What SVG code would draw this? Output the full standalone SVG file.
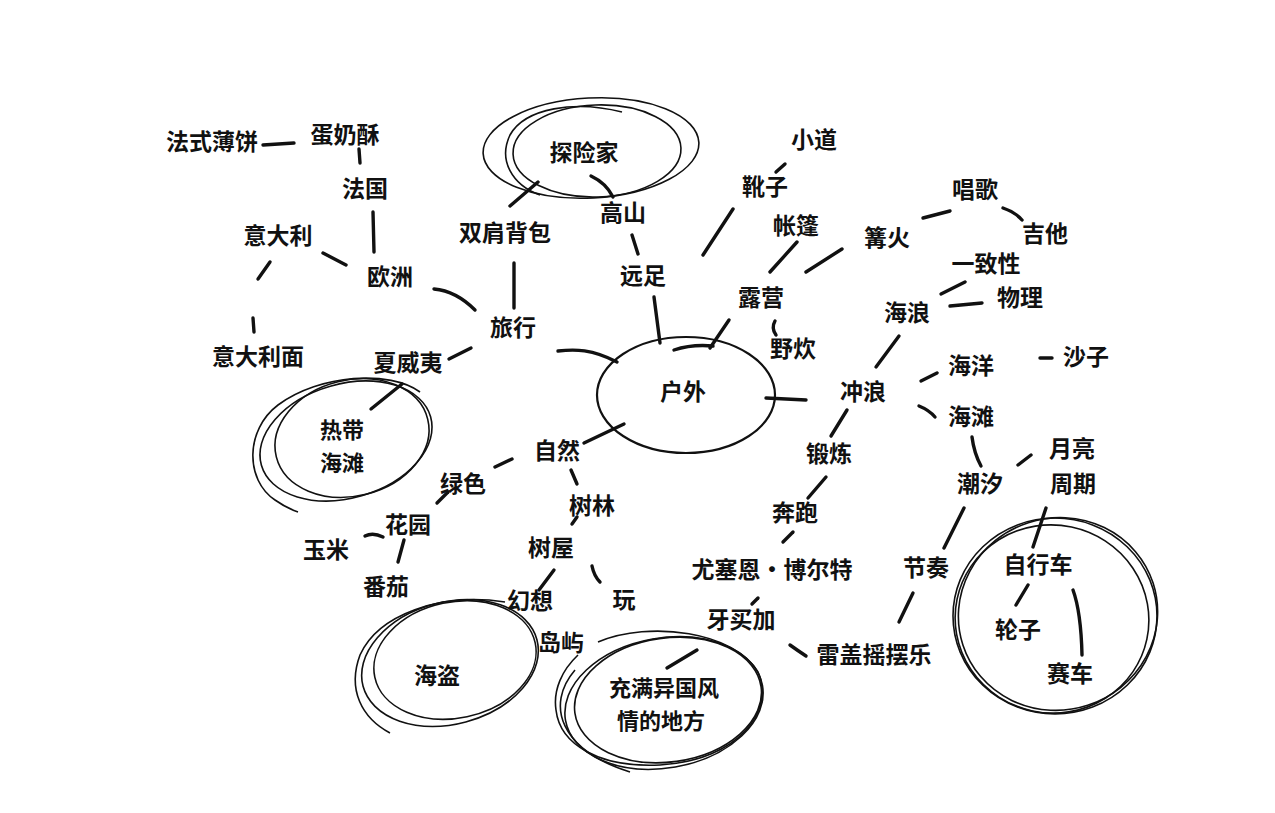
<svg xmlns="http://www.w3.org/2000/svg" width="1275" height="813" viewBox="0 0 1275 813">
<style>
text{font-family:"Noto Sans CJK SC","Noto Sans",sans-serif;font-weight:700;font-size:23px;fill:#111;text-anchor:middle;dominant-baseline:central}
text.m{font-size:22px}
.c{fill:none;stroke:#111;stroke-width:3.4;stroke-linecap:round;stroke-linejoin:round}
.o{fill:none;stroke:#111;stroke-width:1.6}
.o2{fill:none;stroke:#111;stroke-width:2.2}
</style>
<rect width="1275" height="813" fill="#fff"/>
<g id="connectors">
<path class="c" d="M263,145 L294,143"/>
<path class="c" d="M359,149 L360,163"/>
<path class="c" d="M373,212 L374,252"/>
<path class="c" d="M323,253 L346,265"/>
<path class="c" d="M270,262 L258,279"/>
<path class="c" d="M253,318 L254,332"/>
<path class="c" d="M434,289 Q456,291 475,310"/>
<path class="c" d="M514,263 L514,308"/>
<path class="c" d="M510,206 L538,182"/>
<path class="c" d="M449,359 L471,348"/>
<path class="c" d="M371,409 L402,384"/>
<path class="c" d="M558,351 C575,349 592,349 617,362"/>
<path class="c" d="M591,176 Q606,183 613,197"/>
<path class="c" d="M632,235 L638,254"/>
<path class="c" d="M654,297 L660,343"/>
<path class="c" d="M674,350 Q692,344 713,346"/>
<path class="c" d="M729,320 L710,348"/>
<path class="c" d="M775,321 Q771,328 776,335"/>
<path class="c" d="M703,255 L733,209"/>
<path class="c" d="M776,172 L785,164"/>
<path class="c" d="M770,272 L797,242"/>
<path class="c" d="M806,272 L842,249"/>
<path class="c" d="M923,218 L950,211"/>
<path class="c" d="M1003,208 Q1015,212 1022,220"/>
<path class="c" d="M941,294 L965,282"/>
<path class="c" d="M950,306 L982,303"/>
<path class="c" d="M899,336 L876,367"/>
<path class="c" d="M766,398 L806,400"/>
<path class="c" d="M921,381 L937,373"/>
<path class="c" d="M1040,358 L1052,358"/>
<path class="c" d="M919,406 Q929,410 935,417"/>
<path class="c" d="M972,437 Q974,453 981,466"/>
<path class="c" d="M1018,465 L1031,455"/>
<path class="c" d="M1046,508 L1033,547"/>
<path class="c" d="M964,508 L944,548"/>
<path class="c" d="M913,593 L899,622"/>
<path class="c" d="M847,410 L831,436"/>
<path class="c" d="M826,477 L808,498"/>
<path class="c" d="M793,532 L783,542"/>
<path class="c" d="M758,598 L752,604"/>
<path class="c" d="M790,645 Q797,650 806,656"/>
<path class="c" d="M667,668 L697,650"/>
<path class="c" d="M584,443 L624,424"/>
<path class="c" d="M495,467 L512,459"/>
<path class="c" d="M437,503 L448,492"/>
<path class="c" d="M365,536 Q373,532 383,537"/>
<path class="c" d="M404,540 L398,562"/>
<path class="c" d="M571,470 L577,484"/>
<path class="c" d="M572,524 L577,517"/>
<path class="c" d="M554,570 L539,590"/>
<path class="c" d="M592,566 Q594,576 600,582"/>
<path class="c" d="M1028,585 L1016,605"/>
<path class="c" d="M1073,590 Q1081,612 1082,655"/>
</g>
<g id="n-huwai"><ellipse class="o2" cx="686" cy="395" rx="89" ry="58"/><text x="683" y="390">户外</text></g>
<g id="n-tanxianjia">
<ellipse class="o" cx="591" cy="148" rx="108" ry="50" transform="rotate(-3 591 148)"/>
<ellipse class="o" cx="597" cy="151" rx="84" ry="46" transform="rotate(-2 597 151)"/>
<path class="o" d="M622,112 C575,100 525,108 510,135 C498,160 512,185 540,195"/>
<text x="584" y="151">探险家</text></g>
<g id="n-redai">
<ellipse class="o" cx="352" cy="438" rx="78" ry="58" transform="rotate(-14 352 438)"/>
<ellipse class="o" cx="346" cy="441" rx="88" ry="57" transform="rotate(-16 346 441)"/>
<path class="o" d="M420,392 C390,370 320,374 278,405 C245,430 245,480 275,500 C285,507 292,510 298,512"/>
<text class="m" x="342" y="428">热带</text><text class="m" x="342" y="461">海滩</text></g>
<g id="n-haidao">
<ellipse class="o" cx="455" cy="660" rx="82" ry="58" transform="rotate(-12 455 660)"/>
<ellipse class="o" cx="450" cy="663" rx="90" ry="61" transform="rotate(-15 450 663)"/>
<path class="o" d="M505,602 C440,592 378,615 360,655 C347,690 362,718 390,733"/>
<text x="437" y="674">海盗</text></g>
<g id="n-yiguo">
<ellipse class="o" cx="668" cy="700" rx="94" ry="62" transform="rotate(-8 668 700)"/>
<ellipse class="o" cx="664" cy="703" rx="100" ry="65" transform="rotate(-10 664 703)"/>
<path class="o" d="M598,642 C650,620 735,632 758,672 C775,710 740,760 660,765 C600,768 560,745 556,710 C553,690 562,670 578,655"/>
<path class="o" d="M575,670 C545,705 560,750 630,772"/>
<text class="m" x="664" y="686">充满异国风</text><text class="m" x="661" y="719">情的地方</text></g>
<g id="n-zixingche">
<ellipse class="o" cx="1055" cy="616" rx="102" ry="98"/>
<ellipse class="o" cx="1052" cy="619" rx="97" ry="94" transform="rotate(12 1052 619)"/>
<ellipse class="o" cx="1058" cy="614" rx="100" ry="96" transform="rotate(-18 1058 614)"/>
<text x="1038" y="563">自行车</text></g>
<g id="n-fsbb"><text x="212" y="140">法式薄饼</text></g>
<g id="n-dnsu"><text x="345" y="133">蛋奶酥</text></g>
<g id="n-faguo"><text x="365" y="187">法国</text></g>
<g id="n-ydl"><text x="278" y="234">意大利</text></g>
<g id="n-ouzhou"><text x="390" y="275">欧洲</text></g>
<g id="n-ydlm"><text x="258" y="355">意大利面</text></g>
<g id="n-xwy"><text x="408" y="361">夏威夷</text></g>
<g id="n-sjbb"><text x="505" y="231">双肩背包</text></g>
<g id="n-lvxing"><text x="513" y="326">旅行</text></g>
<g id="n-gaoshan"><text x="623" y="211">高山</text></g>
<g id="n-yuanzu"><text x="643" y="274">远足</text></g>
<g id="n-xiaodao"><text x="814" y="138">小道</text></g>
<g id="n-xuezi"><text x="765" y="185">靴子</text></g>
<g id="n-zhangpeng"><text x="796" y="224">帐篷</text></g>
<g id="n-gouhuo"><text x="887" y="236">篝火</text></g>
<g id="n-changge"><text x="975" y="188">唱歌</text></g>
<g id="n-jita"><text x="1045" y="232">吉他</text></g>
<g id="n-yzx"><text x="986" y="262">一致性</text></g>
<g id="n-wuli"><text x="1020" y="296">物理</text></g>
<g id="n-hailang"><text x="907" y="311">海浪</text></g>
<g id="n-luying"><text x="761" y="296">露营</text></g>
<g id="n-yechui"><text x="793" y="347">野炊</text></g>
<g id="n-chonglang"><text x="863" y="390">冲浪</text></g>
<g id="n-haiyang"><text x="971" y="364">海洋</text></g>
<g id="n-shazi"><text x="1086" y="355">沙子</text></g>
<g id="n-haitan"><text x="971" y="415">海滩</text></g>
<g id="n-duanlian"><text x="829" y="452">锻炼</text></g>
<g id="n-yueliang"><text x="1072" y="447">月亮</text></g>
<g id="n-chaoxi"><text x="980" y="482">潮汐</text></g>
<g id="n-zhouqi"><text x="1073" y="482">周期</text></g>
<g id="n-ziran"><text x="557" y="449">自然</text></g>
<g id="n-lvse"><text x="463" y="482">绿色</text></g>
<g id="n-shulin"><text x="592" y="504">树林</text></g>
<g id="n-huayuan"><text x="408" y="523">花园</text></g>
<g id="n-yumi"><text x="326" y="548">玉米</text></g>
<g id="n-shuwu"><text x="551" y="546">树屋</text></g>
<g id="n-benpao"><text x="795" y="511">奔跑</text></g>
<g id="n-bolt"><text x="772" y="568">尤塞恩·博尔特</text></g>
<g id="n-jiezou"><text x="926" y="566">节奏</text></g>
<g id="n-fanqie"><text x="386" y="585">番茄</text></g>
<g id="n-huanxiang"><text x="530" y="599">幻想</text></g>
<g id="n-wan"><text x="624" y="598">玩</text></g>
<g id="n-yamaijia"><text x="741" y="618">牙买加</text></g>
<g id="n-lunzi"><text x="1018" y="628">轮子</text></g>
<g id="n-daoyu"><text x="561" y="641">岛屿</text></g>
<g id="n-leigai"><text x="874" y="653">雷盖摇摆乐</text></g>
<g id="n-saiche"><text x="1070" y="672">赛车</text></g>
</svg>
